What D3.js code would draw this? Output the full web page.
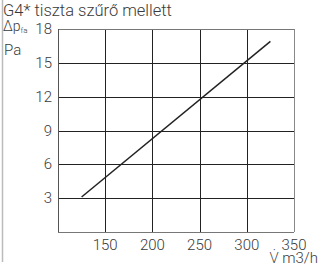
<!DOCTYPE html>
<html>
<head>
<meta charset="utf-8">
<script src="https://cdn.jsdelivr.net/npm/d3@7"></script>
<style>
body { margin: 0; background: #fff; }
svg text { font-family: Roboto, "Open Sans", sans-serif; font-weight: 300; fill: #3a3a3a; }
</style>
</head>
<body>
<script>
// data
var flow = [125, 325];          // m3/h
var pressure = [3.1, 16.9];     // Pa
var xTicks = [150, 200, 250, 300, 350];
var yTicks = [3, 6, 9, 12, 15, 18];
var title = "G4* tiszta szűrő mellett";

var width = 325, height = 266;
var margin = {left: 58, top: 29, right: 31, bottom: 34};

var svg = d3.select("body").append("svg")
	.attr("width", width)
	.attr("height", height);

// thin grey frame line on the left
svg.append("line")
	.attr("x1", 2.5).attr("x2", 2.5)
	.attr("y1", 0).attr("y2", 262)
	.attr("stroke", "#bbb").attr("stroke-width", 1.5);

var x = d3.scaleLinear().domain([100, 350]).range([margin.left, width - margin.right]);
var y = d3.scaleLinear().domain([0, 18]).range([height - margin.bottom, margin.top]);

var g = svg.append("g");

// grid
g.selectAll(".vgrid").data(xTicks).enter().append("line")
	.attr("x1", function(d) { return Math.round(x(d)) + 0.5; })
	.attr("x2", function(d) { return Math.round(x(d)) + 0.5; })
	.attr("y1", y(18)).attr("y2", y(0))
	.attr("stroke", function(d) { return d == 350 ? "#888" : "#222"; });

g.selectAll(".hgrid").data(yTicks).enter().append("line")
	.attr("y1", function(d) { return Math.round(y(d)) + 0.5; })
	.attr("y2", function(d) { return Math.round(y(d)) + 0.5; })
	.attr("x1", x(100)).attr("x2", x(350))
	.attr("stroke", function(d) { return d == 18 ? "#777" : "#222"; });

// axes lines
g.append("line")
	.attr("x1", x(100) + 0.5).attr("x2", x(100) + 0.5)
	.attr("y1", y(18)).attr("y2", y(0))
	.attr("stroke", "#555");
g.append("line")
	.attr("x1", x(100)).attr("x2", x(350))
	.attr("y1", Math.round(y(0)) + 0.5).attr("y2", Math.round(y(0)) + 0.5)
	.attr("stroke", "#777");

// tick labels
g.selectAll(".xl").data(xTicks).enter().append("text")
	.attr("x", function(d) { return x(d); })
	.attr("y", 250)
	.attr("text-anchor", "middle")
	.attr("font-size", 15)
	.text(function(d) { return d; });

g.selectAll(".yl").data(yTicks).enter().append("text")
	.attr("x", 52)
	.attr("y", function(d) { return y(d) + 5; })
	.attr("text-anchor", "end")
	.attr("font-size", 15)
	.text(function(d) { return d; });

// the curve
var pts = flow.map(function(f, i) { return [f, pressure[i]]; });
g.append("path")
	.datum(pts)
	.attr("fill", "none")
	.attr("stroke", "#222")
	.attr("stroke-width", 1.5)
	.attr("d", d3.line().x(function(d) { return x(d[0]); }).y(function(d) { return y(d[1]); }));

// labels
svg.append("text").attr("x", 3).attr("y", 16).attr("font-size", 16.5).text(title);
var dp = svg.append("text").attr("x", 3).attr("y", 31).attr("font-size", 14);
dp.append("tspan").text("Δp");
dp.append("tspan").attr("font-size", 8).attr("dy", 2).text("fa");
svg.append("text").attr("x", 4).attr("y", 55).attr("font-size", 15).text("Pa");
svg.append("text").attr("x", 318).attr("y", 263).attr("text-anchor", "end")
	.attr("font-size", 15).text("V̇ m3/h");
</script>
</body>
</html>
